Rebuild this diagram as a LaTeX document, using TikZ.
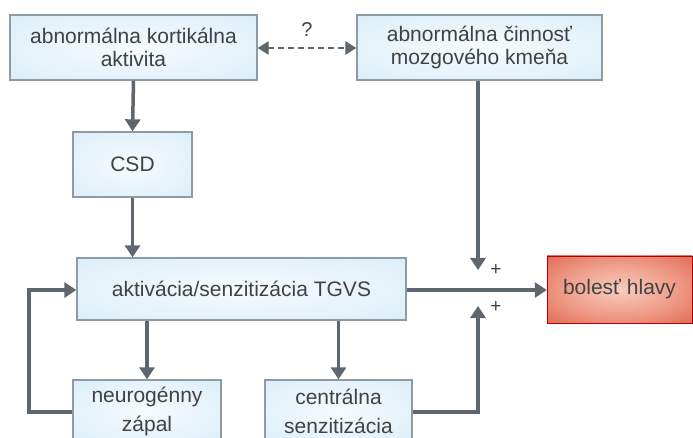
\documentclass[tikz,border=0pt]{standalone}
\usepackage{fontspec}
\setmainfont{Liberation Sans}
\usetikzlibrary{arrows.meta}
\definecolor{boxline}{HTML}{8E9BA5}
\definecolor{arrowc}{HTML}{5E6670}
\definecolor{txt}{HTML}{424242}
\pgfdeclareradialshading{blueglow}{\pgfpoint{0bp}{0bp}}{color(0bp)=(rgb,255:red,246;green,251;blue,254); color(30bp)=(rgb,255:red,224;green,240;blue,249); color(50bp)=(rgb,255:red,200;green,228;blue,243); color(72bp)=(rgb,255:red,190;green,223;blue,240)}
\pgfdeclareradialshading{redglow}{\pgfpoint{0bp}{0bp}}{color(0bp)=(rgb,255:red,248;green,204;blue,190); color(18bp)=(rgb,255:red,240;green,160;blue,140); color(40bp)=(rgb,255:red,222;green,96;blue,76); color(72bp)=(rgb,255:red,208;green,74;blue,56)}
\tikzset{
  bluebox/.style={draw=boxline, line width=1.3pt, shading=blueglow,
    rectangle, align=center, text=txt, inner sep=0pt,
    font=\fontsize{21}{23}\selectfont},
  redbox/.style={draw=red!50!black!60!red, line width=0.5pt, shading=redglow,
    rectangle, align=center, text=txt, inner sep=0pt,
    font=\fontsize{21}{23}\selectfont},
  conn/.style={draw=arrowc, line width=3.5pt, -{Triangle[width=15pt,length=12pt]}},
  dconn/.style={draw=arrowc, line width=2.8pt, dash pattern=on 6pt off 4pt,
    {Triangle[width=13pt,length=11pt]}-{Triangle[width=13pt,length=11pt]}},
  lbl/.style={text=txt, inner sep=0pt}
}
\begin{document}
\begin{tikzpicture}[x=1pt,y=-1pt]
\useasboundingbox[fill=white] (0,0) rectangle (693,438);
% boxes
\node[bluebox, minimum width=247pt, minimum height=65pt] (cort) at (133.5,47.5) {abnormálna kortikálna\\aktivita};
\node[bluebox, minimum width=245pt, minimum height=65pt] (stem) at (479.5,47.5) {abnormálna činnosť\\mozgového kmeňa};
\node[bluebox, minimum width=119pt, minimum height=65pt] (csd) at (132.5,164.5) {CSD};
\node[bluebox, minimum width=329pt, minimum height=62pt] (tgvs) at (241.5,289) {aktivácia/senzitizácia TGVS};
\node[redbox, minimum width=145pt, minimum height=67pt] (pain) at (619.5,289.5) {bolesť hlavy};
\node[bluebox, minimum width=148pt, minimum height=63pt, font=\fontsize{21}{29}\selectfont] (neuro) at (147,411.5) {neurogénny\\zápal};
\node[bluebox, minimum width=147pt, minimum height=63pt, font=\fontsize{21}{29}\selectfont] (cent) at (338.5,411.5) {centrálna\\senzitizácia};
% helper coordinates
\coordinate (j1) at (478,270);
\coordinate (j2) at (478,306);
\coordinate (l1) at (29,412);
\coordinate (l2) at (29,290);
% connectors
\draw[dconn] (cort.east |- 0,48) -- node[lbl, above=10pt, font=\fontsize{20}{22}\selectfont] (q) {?} (stem.west |- 0,48);
\draw[conn] (cort.south) -- (csd.north);
\draw[conn] (csd.south) -- (tgvs.north -| csd.south);
\draw[conn] (stem.south -| j1) -- (j1);
\draw[conn] (tgvs.east |- 0,290) -- (pain.west |- 0,290);
\draw[conn] (tgvs.south -| neuro.north) -- (neuro.north);
\draw[conn] (tgvs.south -| cent.north) -- (cent.north);
\draw[conn] (neuro.west |- l1) -- (l1) -- (l2) -- (tgvs.west |- l2);
\draw[conn] (cent.east |- l1) -- (l1 -| j2) -- (j2);
\node[lbl, font=\fontsize{19}{20}\selectfont] (p1) at (496,270) {+};
\node[lbl, font=\fontsize{19}{20}\selectfont] (p2) at (496,307) {+};
\end{tikzpicture}
\end{document}
